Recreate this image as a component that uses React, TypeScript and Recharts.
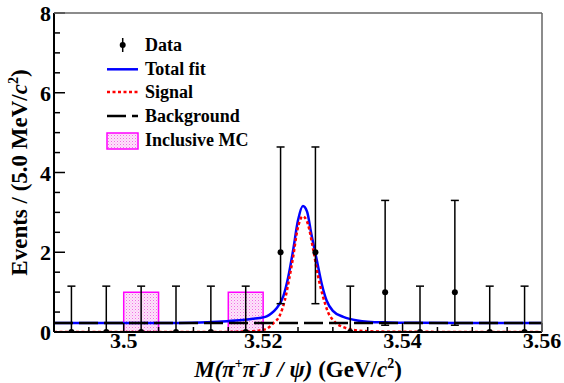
import {
  ComposedChart,
  Line,
  Scatter,
  ErrorBar,
  XAxis,
  YAxis,
  ReferenceArea,
} from "recharts";

// bins of 5 MeV
const binCenters = [
  3.4925, 3.4975, 3.5025, 3.5075, 3.5125, 3.5175, 3.5225, 3.5275, 3.5325,
  3.5375, 3.5425, 3.5475, 3.5525, 3.5575,
];
const counts = [0, 0, 0, 0, 0, 0, 2, 2, 0, 1, 0, 1, 0, 0];
const errLow = [0, 0, 0, 0, 0, 0, 1.29, 1.29, 0, 0.83, 0, 0.83, 0, 0];
const errHigh = [
  1.15, 1.15, 1.15, 1.15, 1.15, 1.15, 2.64, 2.64, 1.15, 2.3, 1.15, 2.3, 1.15,
  1.15,
];
const mcCounts = [0, 0, 1, 0, 0, 1, 0, 0, 0, 0, 0, 0, 0, 0];
const binWidth = 0.005;

// total fit curve
const fitX = [
  3.49, 3.5, 3.508, 3.512, 3.5148, 3.517, 3.5185, 3.5195, 3.5205, 3.5212,
  3.5219, 3.5229, 3.5236, 3.5243, 3.525, 3.5257, 3.5263, 3.5269, 3.5277,
  3.5284, 3.5291, 3.53, 3.5315, 3.5324, 3.5335, 3.535, 3.538, 3.542, 3.548,
  3.56,
];
const fitY = [
  0.225, 0.225, 0.228, 0.245, 0.27, 0.3, 0.33, 0.35, 0.39, 0.47, 0.59, 0.9,
  1.38, 2.05, 2.8, 3.16, 3.02, 2.47, 1.8, 1.21, 0.79, 0.53, 0.38, 0.33, 0.29,
  0.26, 0.24, 0.23, 0.225, 0.225,
];

// signal component
const sigX = [
  3.49, 3.514, 3.517, 3.5185, 3.5195, 3.5205, 3.5214, 3.5224, 3.5231, 3.5237,
  3.5243, 3.5249, 3.5257, 3.5264, 3.5272, 3.5279, 3.5286, 3.5293, 3.5303,
  3.5317, 3.533, 3.535, 3.54, 3.56,
];
const sigY = [
  0, 0, 0.01, 0.02, 0.04, 0.08, 0.21, 0.42, 0.79, 1.3, 1.88, 2.55, 2.9, 2.72,
  2.05, 1.38, 0.88, 0.5, 0.25, 0.11, 0.05, 0.02, 0.005, 0,
];

// background component
const bkgX = [3.49, 3.56];
const bkgY = [0.225, 0.225];

const xTicks = [
  3.49, 3.495, 3.5, 3.505, 3.51, 3.515, 3.52, 3.525, 3.53, 3.535, 3.54, 3.545,
  3.55, 3.555, 3.56,
];
const xLabels = [3.5, 3.52, 3.54, 3.56];
const yTicks = [
  0, 0.5, 1, 1.5, 2, 2.5, 3, 3.5, 4, 4.5, 5, 5.5, 6, 6.5, 7, 7.5, 8,
];
const yLabels = [0, 2, 4, 6, 8];

const W = 564;
const H = 383;
const PLOT_LEFT = 54;
const PLOT_RIGHT = 542;
const PLOT_TOP = 13;
const PLOT_BOTTOM = 332;
const FONT = "'Liberation Serif', 'Times New Roman', serif";

const dataPts = binCenters.map((x, i) => ({
  x,
  y: counts[i],
  err: [errLow[i], errHigh[i]],
}));
const fitData = fitX.map((x, i) => ({ x, y: fitY[i] }));
const sigData = sigX.map((x, i) => ({ x, y: sigY[i] }));
const bkgData = bkgX.map((x, i) => ({ x, y: bkgY[i] }));
const mcBins = binCenters
  .map((c, i) => ({ c, n: mcCounts[i] }))
  .filter((b) => b.n > 0);

const XTick = (props: any) => {
  const { x, payload } = props;
  const v = payload.value;
  const major = xLabels.includes(v);
  return (
    <g>
      <line
        x1={x}
        x2={x}
        y1={PLOT_BOTTOM}
        y2={PLOT_BOTTOM - (major ? 9 : 5)}
        stroke="#000"
        strokeWidth={1.5}
      />
      {major && (
        <text
          x={x}
          y={PLOT_BOTTOM + 16}
          textAnchor="middle"
          fontFamily={FONT}
          fontWeight="bold"
          fontSize={22}
          fill="#000"
        >
          {String(v)}
        </text>
      )}
    </g>
  );
};

const YTick = (props: any) => {
  const { y, payload } = props;
  const v = payload.value;
  const major = yLabels.includes(v);
  return (
    <g>
      <line
        x1={PLOT_LEFT}
        x2={PLOT_LEFT + (major ? 11 : 6)}
        y1={y}
        y2={y}
        stroke="#000"
        strokeWidth={1.5}
      />
      {major && (
        <text
          x={PLOT_LEFT - 3}
          y={y + 8}
          textAnchor="end"
          fontFamily={FONT}
          fontWeight="bold"
          fontSize={22}
          fill="#000"
        >
          {String(v)}
        </text>
      )}
    </g>
  );
};

const Dot = (props: any) => (
  <circle cx={props.cx} cy={props.cy} r={3} fill="#000" />
);

const Hatch = ({ id }: { id: string }) => (
  <pattern id={id} width="3" height="3" patternUnits="userSpaceOnUse">
    <rect width="3" height="3" fill="#fde4fa" />
    <rect width="1" height="1" fill="#f070e4" />
    <rect x="1.5" y="1.5" width="1" height="1" fill="#f7a8ef" />
  </pattern>
);

export default function App() {
  return (
    <div
      style={{
        position: "absolute",
        left: 0,
        top: 0,
        width: W,
        height: H,
        background: "#fff",
      }}
    >
      <ComposedChart
        width={W}
        height={H}
        margin={{ top: PLOT_TOP, right: W - PLOT_RIGHT, bottom: 0, left: 0 }}
      >
        <defs>
          <Hatch id="mcHatch" />
        </defs>
        <XAxis
          dataKey="x"
          type="number"
          domain={[3.49, 3.56]}
          allowDataOverflow
          ticks={xTicks}
          interval={0}
          tickLine={false}
          tick={<XTick />}
          axisLine={{ stroke: "#000", strokeWidth: 2 }}
          height={H - PLOT_BOTTOM}
        />
        <YAxis
          type="number"
          domain={[0, 8]}
          allowDataOverflow
          ticks={yTicks}
          interval={0}
          tickLine={false}
          tick={<YTick />}
          axisLine={{ stroke: "#000", strokeWidth: 2 }}
          width={PLOT_LEFT}
        />
        {mcBins.map((b) => (
          <ReferenceArea
            key={b.c}
            x1={b.c - binWidth / 2}
            x2={b.c + binWidth / 2}
            y1={0}
            y2={b.n}
            fill="url(#mcHatch)"
            fillOpacity={1}
            stroke="#ff00ff"
            strokeWidth={1.5}
          />
        ))}
        <Line
          data={fitData}
          dataKey="y"
          type="monotone"
          stroke="#0000ff"
          strokeWidth={2.5}
          dot={false}
          isAnimationActive={false}
        />
        <Line
          data={sigData}
          dataKey="y"
          type="monotone"
          stroke="#ff0000"
          strokeWidth={2.5}
          strokeDasharray="3 2.5"
          dot={false}
          isAnimationActive={false}
        />
        <Line
          data={bkgData}
          dataKey="y"
          type="linear"
          stroke="#000"
          strokeWidth={2.5}
          strokeDasharray="19 6"
          dot={false}
          isAnimationActive={false}
        />
        <Scatter
          data={dataPts}
          dataKey="y"
          shape={<Dot />}
          isAnimationActive={false}
        >
          <ErrorBar
            dataKey="err"
            direction="y"
            width={4}
            stroke="#000"
            strokeWidth={1.5}
            isAnimationActive={false}
          />
        </Scatter>
      </ComposedChart>
      <svg
        width={W}
        height={H}
        style={{ position: "absolute", left: 0, top: 0, pointerEvents: "none" }}
      >
        <defs>
          <Hatch id="mcHatchLeg" />
        </defs>
        {/* frame top/right */}
        <line x1={PLOT_LEFT} x2={PLOT_RIGHT} y1={PLOT_TOP} y2={PLOT_TOP} stroke="#666" strokeWidth={1.5} />
        <line x1={PLOT_RIGHT} x2={PLOT_RIGHT} y1={PLOT_TOP} y2={PLOT_BOTTOM} stroke="#666" strokeWidth={1.5} />

        {/* legend */}
        <g fontFamily={FONT} fontWeight="bold" fontSize={18} fill="#000">
          <line x1={122.7} x2={122.7} y1={38} y2={52} stroke="#000" strokeWidth={1.5} />
          <circle cx={122.7} cy={45} r={3} fill="#000" />
          <text x={145} y={51}>Data</text>
          <line x1={107} x2={138} y1={69.3} y2={69.3} stroke="#0000ff" strokeWidth={2.5} />
          <text x={145} y={74.5}>Total fit</text>
          <line x1={107} x2={138} y1={92} y2={92} stroke="#ff0000" strokeWidth={2.5} strokeDasharray="3 2.5" />
          <text x={145} y={97.7}>Signal</text>
          <line x1={107} x2={138} y1={116} y2={116} stroke="#000" strokeWidth={2.5} strokeDasharray="19 6" />
          <text x={145} y={121.7}>Background</text>
          <rect x={107} y={133} width={31} height={16} fill="url(#mcHatchLeg)" stroke="#ff00ff" strokeWidth={1.5} />
          <text x={145} y={145.5}>Inclusive MC</text>
        </g>

        {/* x title */}
        <text
          x={(PLOT_LEFT + PLOT_RIGHT) / 2}
          y={377}
          textAnchor="middle"
          fontFamily={FONT}
          fontWeight="bold"
          fontSize={23}
          fill="#000"
        >
          <tspan fontStyle="italic">M(π</tspan>
          <tspan dy={-9} fontSize={14}>+</tspan>
          <tspan dy={9} fontStyle="italic">π</tspan>
          <tspan dy={-9} fontSize={14}>-</tspan>
          <tspan dy={9} fontStyle="italic">J / ψ)</tspan>
          <tspan> (GeV/</tspan>
          <tspan fontStyle="italic">c</tspan>
          <tspan dy={-9} fontSize={14}>2</tspan>
          <tspan dy={9}>)</tspan>
        </text>

        {/* y title */}
        <text
          x={0}
          y={0}
          transform={`translate(27, ${(PLOT_TOP + PLOT_BOTTOM) / 2}) rotate(-90)`}
          textAnchor="middle"
          fontFamily={FONT}
          fontWeight="bold"
          fontSize={23}
          fill="#000"
        >
          <tspan>Events / (5.0 MeV/</tspan>
          <tspan fontStyle="italic">c</tspan>
          <tspan dy={-9} fontSize={14}>2</tspan>
          <tspan dy={9}>)</tspan>
        </text>
      </svg>
    </div>
  );
}
